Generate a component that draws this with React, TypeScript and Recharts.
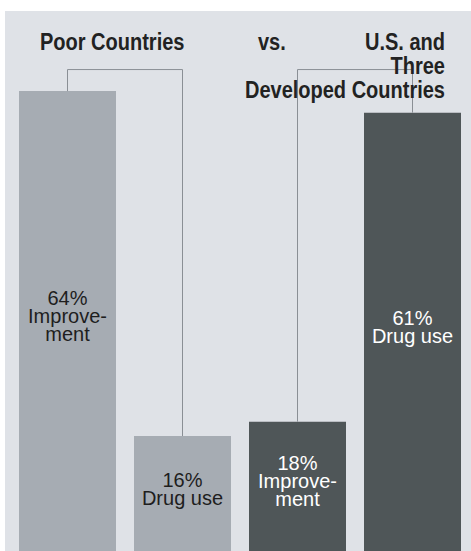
import React from "react";
import { BarChart, Bar, XAxis, YAxis, Cell, LabelList, ReferenceLine } from "recharts";

// categories, left to right
const categories = ["Poor: improvement", "Poor: drug use", "Developed: improvement", "Developed: drug use"];
const values = [64, 16, 18, 61];
const groups = ["poor", "poor", "developed", "developed"];
const pctLabels = ["64%", "16%", "18%", "61%"];
const labelWords = [["Improve-", "ment"], ["Drug use"], ["Improve-", "ment"], ["Drug use"]];

// bracket pairs (indexes into categories) and the level they join at
const connectorPairs = [
  [0, 1],
  [2, 3],
];
const connectorLevel = 67;

const leftTitle = "Poor Countries";
const middleTitle = "vs.";
const rightTitle = ["U.S. and", "Three", "Developed Countries"];

const data = categories.map((name, i) => ({ name, value: values[i], group: groups[i] }));

const FONT = "'Liberation Sans', Arial, sans-serif";
const barColor: Record<string, string> = { poor: "#a6acb3", developed: "#4f5658" };
const textColor: Record<string, string> = { poor: "#1e1e1e", developed: "#ffffff" };
// titles use a squeezed bold face, like a condensed font
const SQ = 0.87;

const BarText = (props: any) => {
  const { x, y, width, height, index } = props;
  const lines = [pctLabels[index], ...labelWords[index]];
  const lh = 18;
  const cx = x + width / 2;
  const first = y + height / 2 - ((lines.length - 1) * lh) / 2 + 2;
  return (
    <text textAnchor="middle" fontFamily={FONT} fontSize={20} fill={textColor[groups[index]]}>
      {lines.map((l, i) => (
        <tspan key={i} x={cx} y={first + i * lh}>
          {l}
        </tspan>
      ))}
    </text>
  );
};

const line = { stroke: "#8a8f95", strokeWidth: 1 };

export default function App() {
  return (
    <div style={{ position: "absolute", left: 0, top: 0, width: 471, height: 551, background: "#fff", overflow: "hidden" }}>
      <div style={{ position: "absolute", left: 5, top: 11, width: 466, height: 540, background: "#dfe2e7" }} />
      <div style={{ position: "absolute", left: 0, top: 0 }}>
        <BarChart width={471} height={551} data={data} margin={{ top: 48, right: 1, left: 10, bottom: 0 }} barCategoryGap={9}>
          <XAxis dataKey="name" hide />
          <YAxis hide domain={[0, 70]} />
          {connectorPairs.map(([a, b], i) => (
            <ReferenceLine
              key={"u" + i}
              segment={[
                { x: categories[a], y: values[a] },
                { x: categories[a], y: connectorLevel },
              ]}
              {...line}
            />
          ))}
          {connectorPairs.map(([a, b], i) => (
            <ReferenceLine
              key={"h" + i}
              segment={[
                { x: categories[a], y: connectorLevel },
                { x: categories[b], y: connectorLevel },
              ]}
              {...line}
            />
          ))}
          {connectorPairs.map(([a, b], i) => (
            <ReferenceLine
              key={"d" + i}
              segment={[
                { x: categories[b], y: connectorLevel },
                { x: categories[b], y: values[b] },
              ]}
              {...line}
            />
          ))}
          <Bar dataKey="value" isAnimationActive={false}>
            {data.map((d, i) => (
              <Cell key={i} fill={barColor[d.group]} />
            ))}
            <LabelList dataKey="value" content={<BarText />} />
          </Bar>
        </BarChart>
      </div>
      <svg width={471} height={551} style={{ position: "absolute", left: 0, top: 0, pointerEvents: "none" }}>
        <g transform={`scale(${SQ} 1)`} fontFamily={FONT} fontSize={23} fontWeight={700} fill="#222">
          <text x={40 / SQ} y={50}>{leftTitle}</text>
          <text x={258 / SQ} y={50}>{middleTitle}</text>
          <text textAnchor="end">
            {rightTitle.map((l, i) => (
              <tspan key={i} x={445 / SQ} y={50 + i * 24}>
                {l}
              </tspan>
            ))}
          </text>
        </g>
      </svg>
    </div>
  );
}
